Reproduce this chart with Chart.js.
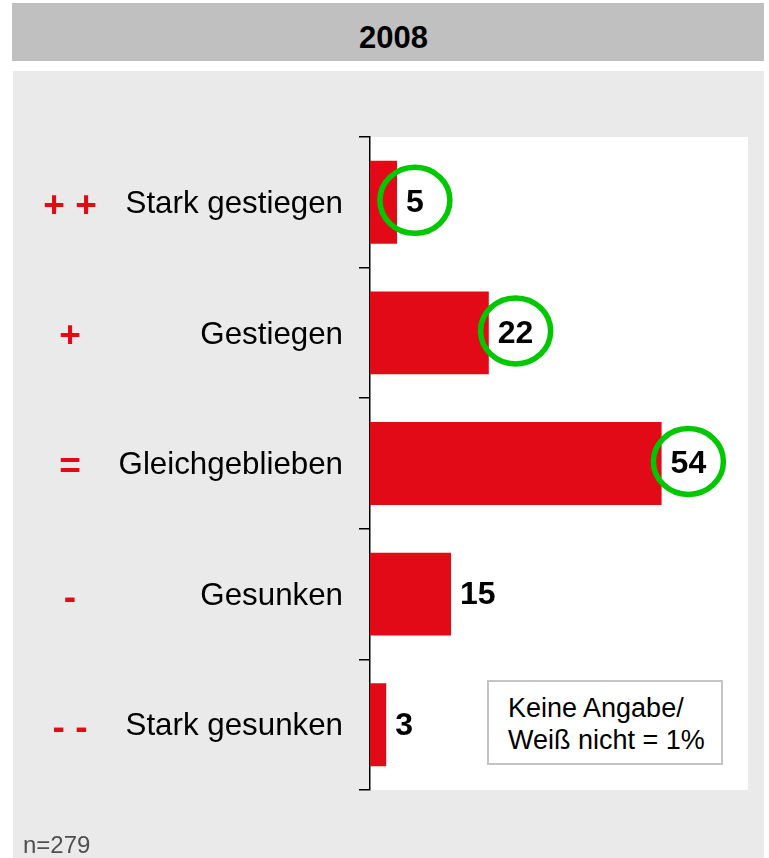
<!DOCTYPE html>
<html>
<head>
<meta charset="utf-8">
<script src="https://cdn.jsdelivr.net/npm/chart.js@4.4.0/dist/chart.umd.min.js"></script>
<style>
  html, body { margin: 0; padding: 0; background: #ffffff; }
  body { width: 769px; height: 858px; position: relative; overflow: hidden; font-family: "Liberation Sans", Arial, sans-serif; }
  #header { position: absolute; left: 12px; top: 3px; width: 752px; height: 58px; background: #C0C0C0; }
  #header span { position: absolute; left: 0; width: 100%; top: 19px; padding-left: 11px; box-sizing: border-box; text-align: center; font-weight: bold; font-size: 31px; line-height: 31px; color: #000; }
  #panel { position: absolute; left: 13px; top: 71px; width: 751px; height: 787px; background: #EAEAEA; }
  #chart { position: absolute; left: 0; top: 0; }
  #note { position: absolute; left: 487px; top: 680px; width: 236px; height: 85px; box-sizing: border-box; border: 2px solid #C4C4C4; background: #fff; padding: 10px 0 0 19px; font-size: 27px; line-height: 32px; color: #000; }
  #n { position: absolute; left: 23px; top: 833px; font-size: 24px; line-height: 24px; color: #505050; }
</style>
</head>
<body>
<div id="header"><span>2008</span></div>
<div id="panel"></div>
<canvas id="chart" width="769" height="858"></canvas>
<div id="note">Keine Angabe/<br>Weiß nicht = 1%</div>
<div id="n">n=279</div>
<script>
const categories = ["Stark gestiegen", "Gestiegen", "Gleichgeblieben", "Gesunken", "Stark gesunken"];
const symbols = ["+ +", "+", "=", "-", "- -"];
const values = [5, 22, 54, 15, 3];
const highlighted = [true, true, true, false, false];
const axisMax = 70;

const RED = "#E20A16";
const GREEN = "#00C800";
const FONT = "'Liberation Sans', Arial, sans-serif";

const decorPlugin = {
  id: "decor",
  beforeDraw(chart) {
    const { ctx, chartArea: a } = chart;
    ctx.save();
    ctx.fillStyle = "#ffffff";
    ctx.fillRect(a.left, a.top, a.right - a.left, a.bottom - a.top);
    ctx.restore();
  },
  afterDatasetsDraw(chart) {
    const { ctx } = chart;
    const meta = chart.getDatasetMeta(0);
    const yScale = chart.scales.y;
    ctx.save();
    meta.data.forEach((bar, i) => {
      const yc = yScale.getPixelForValue(i);
      // value label
      ctx.font = "bold 32px " + FONT;
      ctx.fillStyle = "#000";
      ctx.textBaseline = "middle";
      ctx.textAlign = "left";
      const txt = String(values[i]);
      const tx = bar.x + 9;
      ctx.fillText(txt, tx, yc + 1);
      const w = ctx.measureText(txt).width;
      if (highlighted[i]) {
        ctx.beginPath();
        ctx.ellipse(tx + w / 2, yc - 2, 35, 33, 0, 0, Math.PI * 2);
        ctx.lineWidth = 5.5;
        ctx.strokeStyle = GREEN;
        ctx.stroke();
      }
      // symbol
      ctx.font = "bold 37px " + FONT;
      ctx.fillStyle = RED;
      ctx.textAlign = "center";
      ctx.textBaseline = "alphabetic";
      ctx.fillText(symbols[i], 70, yc + 14.5);
    });
    ctx.restore();
  }
};

new Chart(document.getElementById("chart"), {
  type: "bar",
  data: {
    labels: categories,
    datasets: [{
      data: values,
      backgroundColor: RED,
      borderWidth: 0,
      barPercentage: 0.635,
      categoryPercentage: 1.0
    }]
  },
  options: {
    indexAxis: "y",
    responsive: false,
    animation: false,
    events: [],
    layout: { padding: { top: 137, bottom: 68, left: 0, right: 21 } },
    plugins: { legend: { display: false }, tooltip: { enabled: false }, title: { display: false } },
    scales: {
      x: { display: false, min: 0, max: axisMax },
      y: {
        afterFit(scale) { scale.width = 370; },
        grid: { display: true, drawOnChartArea: false, drawTicks: true, tickLength: 11, color: "#000", lineWidth: 1.5, offset: true },
        border: { display: true, color: "#000", width: 1.5 },
        ticks: { color: "#000", padding: 16, labelOffset: 2, font: { family: FONT, size: 31.3 } }
      }
    }
  },
  plugins: [decorPlugin]
});
</script>
</body>
</html>
